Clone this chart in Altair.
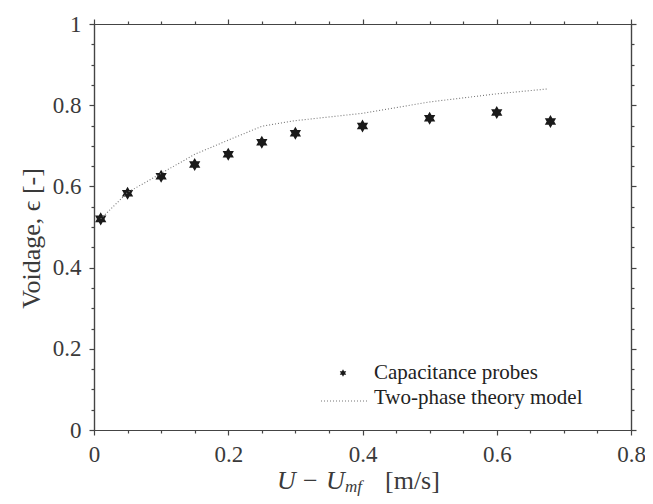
import altair as alt
import pandas as pd

# Measured data (capacitance probes)
probe_u = [0.01, 0.05, 0.10, 0.15, 0.20, 0.25, 0.30, 0.40, 0.50, 0.60, 0.68]
probe_eps = [0.520, 0.583, 0.625, 0.654, 0.679, 0.709, 0.731, 0.749, 0.768, 0.782, 0.760]

# Two-phase theory model
model_u = [0.01, 0.05, 0.10, 0.15, 0.20, 0.25, 0.30, 0.40, 0.50, 0.60, 0.675]
model_eps = [0.520, 0.585, 0.632, 0.679, 0.714, 0.748, 0.762, 0.780, 0.808, 0.828, 0.840]

x_major = [0, 0.2, 0.4, 0.6, 0.8]
x_minor = [0.05, 0.1, 0.15, 0.25, 0.3, 0.35, 0.45, 0.5, 0.55, 0.65, 0.7, 0.75]
y_major = [0, 0.2, 0.4, 0.6, 0.8, 1.0]
y_minor = [0.05, 0.1, 0.15, 0.25, 0.3, 0.35, 0.45, 0.5, 0.55, 0.65, 0.7, 0.75, 0.85, 0.9, 0.95]

legend_labels = ["Capacitance probes", "Two-phase theory model"]

FONT = "Liberation Serif"
AX = "#444444"
TXT = "#3a3a3a"
STAR = "M0,-1L0.289,-0.5L0.866,-0.5L0.577,0L0.866,0.5L0.289,0.5L0,1L-0.289,0.5L-0.866,0.5L-0.577,0L-0.866,-0.5L-0.289,-0.5Z"

W, H = 537, 406

probes = pd.DataFrame({"u": probe_u, "eps": probe_eps})
model = pd.DataFrame({"u": model_u, "eps": model_eps})

xs = alt.Scale(domain=[0, 0.8], nice=False, zero=False)
ys = alt.Scale(domain=[0, 1], nice=False, zero=False)

def ax(orient, values, size, labels, title=None, **kw):
    return alt.Axis(orient=orient, values=values, tickSize=size, labels=labels,
                    title=title, grid=False, domain=True, domainColor=AX,
                    domainWidth=1.2, tickColor=AX, tickWidth=1.2, **kw)

lab_kw = dict(labelFont=FONT, labelFontSize=23, labelColor=TXT, labelPadding=8)

points = alt.Chart(probes).mark_point(shape=STAR, filled=True, size=170,
                                      color="#1a1a1a", opacity=1).encode(
    x=alt.X("u:Q", scale=xs,
            axis=ax("bottom", x_major, 5, True, None, labelFlush=False,
                    format="~g", **lab_kw)),
    y=alt.Y("eps:Q", scale=ys,
            axis=ax("left", y_major, 5, True, "Voidage, ϵ [-]", format="~g",
                    titleFont=FONT, titleFontSize=26, titleFontWeight="normal",
                    titleColor=TXT, titlePadding=8, titleY=214, **lab_kw)),
)

line = alt.Chart(model).mark_line(color="#777777", strokeWidth=1.1,
                                  strokeDash=[1, 2]).encode(
    x=alt.X("u:Q", scale=xs, axis=ax("bottom", x_minor, 3, False)),
    y=alt.Y("eps:Q", scale=ys, axis=ax("left", y_minor, 3, False)),
)

ghost1 = alt.Chart(probes).mark_point(opacity=0).encode(
    x=alt.X("u:Q", scale=xs, axis=ax("top", x_major, 5, False)),
    y=alt.Y("eps:Q", scale=ys, axis=ax("right", y_major, 5, False)),
)
ghost2 = alt.Chart(probes).mark_point(opacity=0).encode(
    x=alt.X("u:Q", scale=xs, axis=ax("top", x_minor, 3, False)),
    y=alt.Y("eps:Q", scale=ys, axis=ax("right", y_minor, 3, False)),
)

# Legend (drawn manually, inside lower right)
def legtext(i, y):
    return alt.Chart(pd.DataFrame({"label": [legend_labels[i]]})).mark_text(
        font=FONT, fontSize=21, color="#222222", align="left",
        baseline="alphabetic").encode(x=alt.value(280), y=alt.value(y),
                                      text="label:N")

leg_star = alt.Chart(pd.DataFrame({"k": [0]})).mark_point(
    shape=STAR, filled=True, size=55, color="#1a1a1a", opacity=1).encode(
    x=alt.value(249), y=alt.value(349))
leg_line = alt.Chart(pd.DataFrame({"k": [1]})).mark_rule(
    color="#777777", strokeWidth=1.1, strokeDash=[1, 2]).encode(
    x=alt.value(227), x2=alt.value(274), y=alt.value(377))

def tpart(text, x, y, size, style):
    return alt.Chart(pd.DataFrame({"t": [text]})).mark_text(
        font=FONT, fontSize=size, fontStyle=style, color=TXT, align="left",
        baseline="alphabetic").encode(text="t:N", x=alt.value(x), y=alt.value(y))

BY = 465
xt = (tpart("U", 183, BY, 26, "italic") + tpart("−", 209, BY, 26, "normal")
      + tpart("U", 232, BY, 26, "italic") + tpart("mf", 251, BY + 3, 17, "italic")
      + tpart("[m/s]", 291, BY, 26, "normal"))

chart = alt.layer(points, line, ghost1, ghost2, leg_line, leg_star,
                  legtext(0, 355), legtext(1, 380), xt).resolve_axis(
    x="independent", y="independent").properties(
    width=W, height=H,
    autosize=alt.AutoSizeParams(type="none"),
    padding={"left": 86, "top": 16, "right": 14, "bottom": 66},
).configure_view(stroke=None)

chart.save("out.html", embed_options={"renderer": "svg", "actions": False})
